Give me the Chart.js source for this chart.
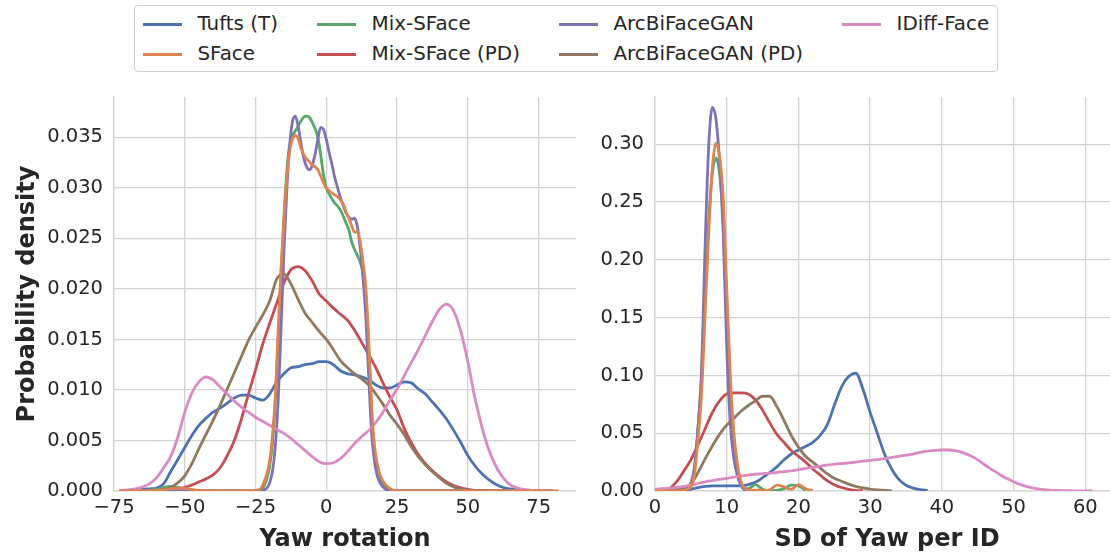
<!DOCTYPE html>
<html>
<head>
<meta charset="utf-8">
<script src="https://cdn.jsdelivr.net/npm/chart.js@4.4.1/dist/chart.umd.min.js"></script>
<style>
html,body{margin:0;padding:0;width:1110px;height:553px;overflow:hidden;background:#fff;font-family:"DejaVu Sans",sans-serif;position:relative;}
#c1{position:absolute;left:0;top:0;}
#c2{position:absolute;left:575px;top:0;}
#legend{position:absolute;left:134px;top:5px;border:1px solid #d0d0d0;border-radius:4px;background:#fff;box-sizing:border-box;height:67px;z-index:2;}
.item{position:absolute;height:30px;}
.swatch{position:absolute;left:0;top:14px;height:3px;}
.label{position:absolute;top:0;font-size:19.9px;line-height:30px;color:#262626;white-space:nowrap;}
</style>
</head>
<body>
<div id="legend"></div>
<canvas id="c1" width="590" height="553"></canvas>
<canvas id="c2" width="550" height="553"></canvas>
<script>
// ---------- Left panel: Yaw rotation ----------
const yawXWide = [
  -73, -70, -67.5, -65, -62.5, -60, -57.5, -55, -52.5, -50,
  -47.5, -45, -42.5, -40, -37.5, -35, -32.5, -30, -27.5, -25,
  -22.5, -20, -17.5, -15, -12.5, -10, -7.5, -5, -2.5, 0,
  2.5, 5, 7.5, 10, 12.5, 15, 17.5, 20, 22.5, 25,
  27.5, 30, 32.5, 35, 37.5, 40, 42.5, 45, 47.5, 50,
  52.5, 55, 57.5, 60, 62.5, 65, 67.5, 70, 72.5, 75,
  77.5, 80, 82.5
];
const tuftsYaw = [
  0, 0.00005, 0.0001, 0.00015, 0.00022, 0.0003, 0.0007, 0.0019, 0.0031, 0.0043,
  0.0055, 0.0065, 0.0072, 0.0078, 0.0082, 0.0087, 0.0092, 0.0095, 0.0095, 0.0092,
  0.0090, 0.0096, 0.0108, 0.0116, 0.0122, 0.0123, 0.0125, 0.0126, 0.0128, 0.0128,
  0.0125, 0.0119, 0.0116, 0.0115, 0.0113, 0.0110, 0.0105, 0.0102, 0.0102, 0.0105,
  0.0108, 0.0107, 0.0101, 0.0096, 0.0088, 0.0080, 0.0071, 0.0060, 0.0048, 0.0035,
  0.0025, 0.0017, 0.0011, 0.00065, 0.00035, 0.0002, 0.0001, 0.00004, null, null,
  null, null, null
];
const idiffYaw = [
  0.00005, 0.0001, 0.0002, 0.0004, 0.0007, 0.0013, 0.0023, 0.0034, 0.0053, 0.0078,
  0.0097, 0.0108, 0.0113, 0.0110, 0.0103, 0.0096, 0.0089, 0.0083, 0.0078, 0.0073,
  0.0069, 0.0065, 0.0061, 0.0057, 0.0052, 0.0046, 0.0040, 0.0034, 0.0029, 0.0027,
  0.0028, 0.0032, 0.0039, 0.0047, 0.0054, 0.0060, 0.0068, 0.0078, 0.0090, 0.0101,
  0.0114, 0.0127, 0.0140, 0.0154, 0.0168, 0.0180, 0.0185, 0.0178, 0.0158, 0.0128,
  0.0092, 0.0063, 0.0040, 0.0024, 0.0013, 0.0006, 0.0003, 0.00015, 0.00007, 0.00003,
  0.00001, 0, null
];
const arcPdYaw = [
  0, 0.00001, 0.00002, 0.00003, 0.00005, 0.00008, 0.00015, 0.00035, 0.0008, 0.0015,
  0.0027, 0.0042, 0.0056, 0.0070, 0.0085, 0.0101, 0.0117, 0.0133, 0.0149, 0.0162,
  0.0174, 0.0188, 0.0210, 0.0215, 0.0205, 0.0190, 0.0176, 0.0167, 0.0158, 0.0150,
  0.0140, 0.0129, 0.0122, 0.0116, 0.0111, 0.0105, 0.0096, 0.0086, 0.0075, 0.0066,
  0.0056, 0.0044, 0.0034, 0.0026, 0.0019, 0.0013, 0.00075, 0.0004, 0.00015, 0.00008,
  0.00004, 0.00002, 0.00001, 0, 0, 0, null, null, null, null,
  null, null, null
];
const mixPdYaw = [
  0, 0, 0, 0.00001, 0.00002, 0.00003, 0.00005, 0.0001, 0.0002, 0.00035,
  0.0006, 0.0009, 0.0012, 0.0016, 0.0023, 0.0035, 0.0050, 0.0071, 0.0096, 0.0120,
  0.0145, 0.0166, 0.0186, 0.0206, 0.0219, 0.0222, 0.0218, 0.0208, 0.0195, 0.0188,
  0.0181, 0.0175, 0.0169, 0.0159, 0.0147, 0.0135, 0.0122, 0.0107, 0.0093, 0.0080,
  0.0062, 0.0048, 0.0036, 0.0027, 0.0020, 0.0014, 0.0009, 0.00055, 0.0003, 0.00015,
  0.00007, 0.00003, 0.00001, 0, 0, 0, 0, null, null, null,
  null, null, null
];
const yawXFine = [
  -73, -70, -65, -60, -57.5, -55, -52.5, -50, -47.5, -45,
  -40, -35, -30, -27, -26, -25, -24, -23, -22, -21,
  -20, -19, -18, -17, -16, -15, -14, -13, -12, -11,
  -10, -9, -8, -7, -6, -5, -4, -3, -2, -1,
  0, 1, 2, 3, 4, 5, 6, 7, 8, 9,
  10, 11, 12, 13, 14, 15, 16, 17, 18, 19,
  20, 21, 22, 23, 24, 25, 26, 28, 30, 35,
  40, 45, 50, 55, 60, 65, 70, 75, 80, 82
];
const arcYaw = [
  0, 0, 0, 0.00002, 0.00005, 0.00008, 0.00008, 0.00005, 0.00002, 0.00001,
  0, 0, 0, 0, 0, 0, 0.00002, 0.00005, 0.0001, 0.0003,
  0.0008, 0.0020, 0.0045, 0.0090, 0.0160, 0.0235, 0.0295, 0.0340, 0.0365, 0.0371,
  0.0362, 0.0345, 0.0330, 0.0321, 0.0318, 0.0322, 0.0333, 0.0348, 0.0360, 0.0358,
  0.0348, 0.0335, 0.0323, 0.0310, 0.0300, 0.0290, 0.0282, 0.0275, 0.0271, 0.0269,
  0.0270, 0.0261, 0.0240, 0.0210, 0.0170, 0.0112, 0.0057, 0.0030, 0.0015, 0.0008,
  0.0004, 0.00015, 0.00005, 0.00002, 0, 0, 0, 0, 0, 0,
  0, 0, 0, 0, 0, 0, 0, 0, 0, null
];
const sfaceYaw = [
  0, 0, 0.00001, 0.00005, 0.00012, 0.0002, 0.00027, 0.00025, 0.00015, 0.00007,
  0.00002, 0.00001, 0.00001, 0.00001, 0.00002, 0.00005, 0.0001, 0.0003, 0.0009, 0.0017,
  0.0030, 0.0055, 0.0095, 0.0160, 0.0220, 0.0267, 0.0308, 0.0335, 0.0348, 0.0352,
  0.0349, 0.0340, 0.0333, 0.0329, 0.0326, 0.0323, 0.0321, 0.0318, 0.0312, 0.0305,
  0.0300, 0.0297, 0.0295, 0.0293, 0.0291, 0.0288, 0.0284, 0.0276, 0.0270, 0.0262,
  0.0256, 0.0257, 0.0246, 0.0226, 0.0200, 0.0148, 0.0085, 0.0045, 0.0027, 0.0016,
  0.0010, 0.0006, 0.00035, 0.00015, 0.00007, 0.00003, 0.00001, 0, 0, 0,
  0, 0, 0, 0, 0, 0, 0, 0, 0, 0
];
const mixYaw = [
  0, 0.00001, 0.00003, 0.00015, 0.00035, 0.00045, 0.00035, 0.0002, 0.00008, 0.00003,
  0.00001, 0, 0, 0, 0.00001, 0.00002, 0.00005, 0.00015, 0.0005, 0.0012,
  0.0025, 0.0048, 0.0090, 0.0150, 0.0215, 0.0270, 0.0315, 0.0342, 0.0352, 0.0356,
  0.0361, 0.0366, 0.0370, 0.0371, 0.0370, 0.0365, 0.0359, 0.0350, 0.0333, 0.0313,
  0.0300, 0.0294, 0.0289, 0.0285, 0.0282, 0.0278, 0.0272, 0.0265, 0.0258, 0.0246,
  0.0239, 0.0233, 0.0226, 0.0215, 0.0190, 0.0140, 0.0078, 0.0042, 0.0024, 0.0014,
  0.00075, 0.0004, 0.0002, 0.00008, 0.00003, 0.00001, 0, 0, 0, 0,
  0, 0, 0, 0, 0, 0, 0, 0, 0, null
];
const yawTicks = [-75, -50, -25, 0, 25, 50, 75];
const yawDensityTicks = [0, 0.005, 0.010, 0.015, 0.020, 0.025, 0.030, 0.035];

// ---------- Right panel: SD of Yaw per ID ----------
const sdX = [
  0, 1, 2, 3, 4, 5, 6, 7, 8, 9,
  10, 11, 12, 13, 14, 15, 16, 17, 18, 19,
  20, 21, 22, 23, 24, 25, 26, 27, 28, 29,
  30, 31, 32, 33, 34, 35, 36, 37, 38, 39,
  40, 41, 42, 43, 44, 45, 46, 47, 48, 49,
  50, 51, 52, 53, 54, 55, 56, 57, 58, 59,
  60, 61, 62
];
const tuftsSd = [
  null, null, null, 0, 0.0005, 0.0015, 0.003, 0.004, 0.0045, 0.0045,
  0.0045, 0.0045, 0.0045, 0.0055, 0.0075, 0.0115, 0.016, 0.021, 0.027, 0.032,
  0.0355, 0.0385, 0.042, 0.048, 0.057, 0.074, 0.090, 0.099, 0.102, 0.088,
  0.068, 0.050, 0.032, 0.019, 0.010, 0.005, 0.0025, 0.0012, 0.0005, null,
  null, null, null, null, null, null, null, null, null, null,
  null, null, null, null, null, null, null, null, null, null,
  null, null, null
];
const mixPdSd = [
  0.0005, 0.001, 0.002, 0.008, 0.017, 0.027, 0.040, 0.054, 0.068, 0.078,
  0.084, 0.085, 0.085, 0.084, 0.079, 0.070, 0.059, 0.049, 0.042, 0.035,
  0.030, 0.025, 0.019, 0.014, 0.009, 0.0055, 0.003, 0.0015, 0.0005, 0.0002,
  null, null, null, null, null, null, null, null, null, null,
  null, null, null, null, null, null, null, null, null, null,
  null, null, null, null, null, null, null, null, null, null,
  null, null, null
];
const arcPdSd = [
  0, 0.0002, 0.0005, 0.0012, 0.003, 0.006, 0.016, 0.028, 0.039, 0.049,
  0.057, 0.063, 0.069, 0.074, 0.078, 0.082, 0.082, 0.073, 0.061, 0.048,
  0.038, 0.030, 0.025, 0.020, 0.015, 0.011, 0.0085, 0.006, 0.004, 0.0027,
  0.0017, 0.001, 0.0005, 0.0002, null, null, null, null, null, null,
  null, null, null, null, null, null, null, null, null, null,
  null, null, null, null, null, null, null, null, null, null,
  null, null, null
];
const idiffSd = [
  0.0015, 0.002, 0.0025, 0.0032, 0.004, 0.005, 0.0065, 0.008, 0.009, 0.010,
  0.011, 0.012, 0.013, 0.0138, 0.0145, 0.015, 0.0155, 0.016, 0.0168, 0.0175,
  0.0185, 0.0195, 0.0205, 0.0215, 0.0225, 0.0232, 0.0238, 0.0243, 0.025, 0.0258,
  0.0265, 0.0272, 0.028, 0.029, 0.030, 0.031, 0.032, 0.0335, 0.0345, 0.0352,
  0.0355, 0.0355, 0.0348, 0.033, 0.0305, 0.027, 0.0225, 0.0185, 0.0145, 0.011,
  0.008, 0.0055, 0.0035, 0.0022, 0.0014, 0.0008, 0.0005, 0.0003, 0.0002, 0.0001,
  0.00005, 0, null
];
const sdXFine = [
  0, 1, 2, 3, 3.5, 4, 4.5, 5, 5.5, 6,
  6.5, 7, 7.5, 8, 8.5, 9, 9.5, 10, 10.5, 11,
  11.5, 12, 12.5, 13, 14, 15, 16, 17, 18, 19,
  20, 21, 22, 23
];
const arcSd = [
  0, 0, 0, 0.0002, 0.0005, 0.001, 0.002, 0.007, 0.020, 0.055,
  0.105, 0.215, 0.300, 0.332, 0.322, 0.285, 0.225, 0.125, 0.058, 0.028,
  0.013, 0.0045, 0.001, 0.0002, null, null, null, null, null, null,
  null, null, null, null
];
const sfaceSd = [
  0, 0, 0, 0.0001, 0.0002, 0.0005, 0.0015, 0.0035, 0.014, 0.045,
  0.085, 0.155, 0.225, 0.280, 0.301, 0.290, 0.255, 0.175, 0.100, 0.050,
  0.023, 0.008, 0.0025, 0.001, 0.0008, 0.0005, 0.001, 0.005, 0.0035, 0.0015,
  0.0055, 0.002, 0.0003, null
];
const mixSd = [
  0, 0, 0, 0.0002, 0.0005, 0.001, 0.0025, 0.006, 0.020, 0.055,
  0.100, 0.170, 0.235, 0.275, 0.288, 0.275, 0.235, 0.165, 0.090, 0.042,
  0.018, 0.006, 0.002, 0.002, 0.0055, 0.0015, 0.0002, 0.0005, 0.002, 0.005,
  0.0045, 0.0005, null, null
];
const sdTicks = [0, 10, 20, 30, 40, 50, 60];
const sdDensityTicks = [0, 0.05, 0.10, 0.15, 0.20, 0.25, 0.30];

// ---------- Series (legend order: column-major, 2 rows) ----------
const seriesNames = ['Tufts (T)', 'SFace', 'Mix-SFace', 'Mix-SFace (PD)', 'ArcBiFaceGAN', 'ArcBiFaceGAN (PD)', 'IDiff-Face'];
const seriesColors = ['#4c72b0', '#dd8452', '#55a868', '#c44e52', '#8172b3', '#937860', '#da8bc3'];
const drawOrder = [6, 0, 5, 4, 3, 2, 1];
const yawSeries = [
  [yawXWide, tuftsYaw], [yawXFine, sfaceYaw], [yawXFine, mixYaw], [yawXWide, mixPdYaw],
  [yawXFine, arcYaw], [yawXWide, arcPdYaw], [yawXWide, idiffYaw]
];
const sdSeries = [
  [sdX, tuftsSd], [sdXFine, sfaceSd], [sdXFine, mixSd], [sdX, mixPdSd],
  [sdXFine, arcSd], [sdX, arcPdSd], [sdX, idiffSd]
];

// ---------- Legend (HTML, matplotlib-like column layout) ----------
const FONT = '"DejaVu Sans", sans-serif';
const LF = 19.5;
const LABEL_PX = 19.9;
(function buildLegend() {
  const legendEl = document.getElementById('legend');
  const mctx = document.createElement('canvas').getContext('2d');
  mctx.font = LABEL_PX + 'px ' + FONT;
  const nCols = 4;
  let x = 0.4 * LF;
  for (let c = 0; c < nCols; c++) {
    const members = [2 * c, 2 * c + 1].filter(i => i < seriesNames.length);
    const w = Math.max(...members.map(i => mctx.measureText(seriesNames[i]).width));
    members.forEach((i, row) => {
      const item = document.createElement('div');
      item.className = 'item';
      item.style.left = x + 'px';
      item.style.top = (3 + row * 30) + 'px';
      const sw = document.createElement('div');
      sw.className = 'swatch';
      sw.style.width = (2 * LF) + 'px';
      sw.style.background = seriesColors[i];
      const lb = document.createElement('div');
      lb.className = 'label';
      lb.style.left = (2.8 * LF) + 'px';
      lb.textContent = seriesNames[i];
      item.appendChild(sw); item.appendChild(lb);
      legendEl.appendChild(item);
    });
    x += 2.8 * LF + w + (c < nCols - 1 ? 2 * LF : 0);
  }
  legendEl.style.width = (x + 0.4 * LF + 2) + 'px';
})();

// ---------- Charts ----------
const TXT = '#262626';
const GRID = '#d3d3d3';

function makeDatasets(pairs) {
  return pairs.map(([xs, ys], i) => ({
    label: seriesNames[i],
    data: xs.map((x, k) => ({ x: x, y: ys[k] })),
    borderColor: seriesColors[i],
    backgroundColor: seriesColors[i],
    borderWidth: 2.8,
    pointRadius: 0,
    fill: false,
    cubicInterpolationMode: 'monotone',
    spanGaps: false,
    order: drawOrder[i]
  }));
}

function axis(min, max, tickVals, fmt, title, titleOpts, fitProp, fitVal, pad) {
  return {
    type: 'linear', min: min, max: max,
    border: { display: true, color: GRID, width: 1.3 },
    grid: { color: GRID, lineWidth: 1.3, drawTicks: false },
    afterBuildTicks: s => { s.ticks = tickVals.map(v => ({ value: v })); },
    ticks: {
      autoSkip: false, maxRotation: 0, padding: pad,
      color: TXT, font: { family: FONT, size: 19.5 },
      callback: v => fmt(v)
    },
    title: Object.assign({
      display: !!title, text: title, color: TXT,
      font: { family: FONT, size: 24, weight: 'bold', lineHeight: 1.1 }
    }, titleOpts),
    afterFit: s => { s[fitProp] = fitVal; }
  };
}

const minus = v => (v < 0 ? '\u2212' + Math.abs(v) : String(v));

function build(canvasId, pairs, xAxis, yAxis, padding) {
  new Chart(document.getElementById(canvasId), {
    type: 'line',
    data: { datasets: makeDatasets(pairs) },
    options: {
      responsive: false, animation: false, devicePixelRatio: 1,
      events: [],
      layout: { padding: padding },
      plugins: { legend: { display: false }, tooltip: { enabled: false } },
      scales: { x: xAxis, y: yAxis }
    }
  });
}

// left axes: x from 114px to 576px
build('c1', yawSeries,
  axis(-75, 88.2, yawTicks, minus, 'Yaw rotation', { padding: { top: 0, bottom: 0 } }, 'height', 62, 5),
  axis(0, 0.039, yawDensityTicks, v => v.toFixed(3), 'Probability density', { padding: { top: 15, bottom: 0 } }, 'width', 114, 11),
  { top: 97, right: 14, bottom: 0, left: 0 });

// right axes: x from 655px to ~1119px (beyond the visible edge)
build('c2', sdSeries,
  axis(0, 64.7, sdTicks, v => String(v), 'SD of Yaw per ID', { padding: { top: 0, bottom: 0 } }, 'height', 62, 5),
  axis(0, 0.341, sdDensityTicks, v => v.toFixed(2), '', {}, 'width', 80, 11),
  { top: 97, right: 6, bottom: 0, left: 0 });
</script>
</body>
</html>
